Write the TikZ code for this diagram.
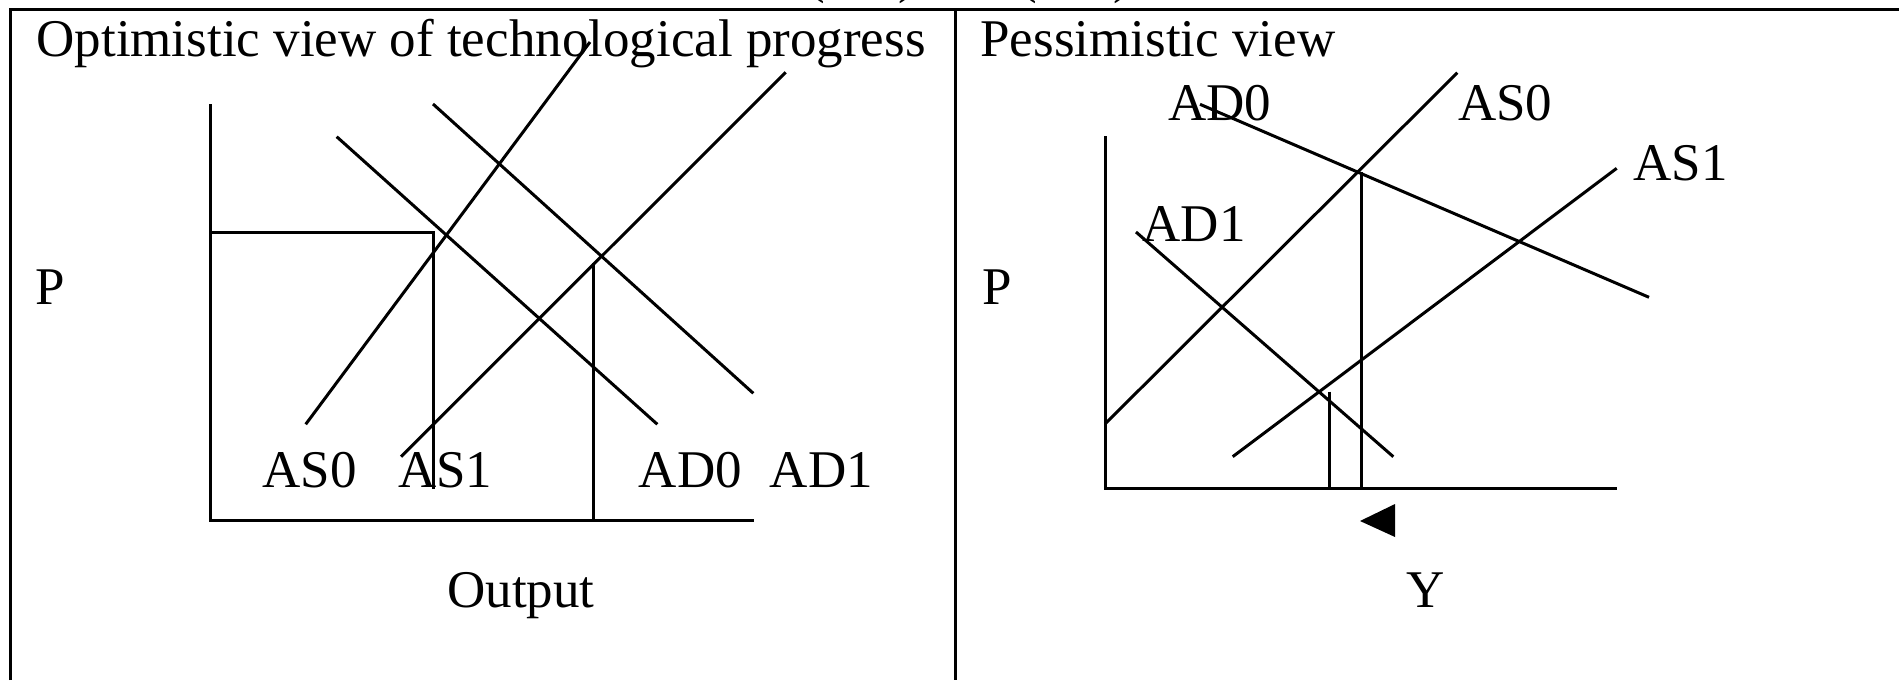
\documentclass[tikz,border=0pt]{standalone}
\usepackage{fontspec}
\setmainfont{Liberation Serif}
\begin{document}
\begin{tikzpicture}[x=0.5pt, y=-0.5pt, line width=1.5pt,
    lab/.style={anchor=base west, inner sep=0pt, font=\fontsize{26.5}{30}\selectfont},
    labc/.style={lab, anchor=base}]
  \useasboundingbox (0,0) rectangle (1899,680);
  % Frame
  \draw (10,680) -- (10,9.5) -- (1899,9.5);
  \draw (955.5,9.5) -- (955.5,680);
  % Cut-off heading above the frame
  \node[lab] (topa) at (806,-7) {(\hspace{36.5pt})};
  \node[lab] (topb) at (1018,-7) {(\hspace{38pt})};

  % --- Optimistic view ---
  \node[lab] (opttitle) at (35,56) {Optimistic view of technological progress};
  % Axes
  \draw (210,104) -- (210,520) -- (754,520);
  % Price and output levels
  \draw (210,232.7) -- (433,232.7) -- (433,489);
  \draw (593.3,263) -- (593.3,520);
  % Supply curves
  \draw (305.7,424.3) -- (590,42);
  \draw (401,456.7) -- (785.7,72.3);
  % Demand curves
  \draw (336.7,136.7) -- (657.3,424.3);
  \draw (433,104) -- (753.3,393.3);
  % Labels
  \node[lab] (optp) at (34,304) {P};
  \node[labc] (optout) at (521,607) {Output};
  \node[lab] (optas0) at (261,487.3) {AS0};
  \node[lab] (optas1) at (396.7,487.3) {AS1};
  \node[lab] (optad0) at (637.3,487.3) {AD0};
  \node[lab] (optad1) at (768.3,487.3) {AD1};

  % --- Pessimistic view ---
  \node[lab] (pestitle) at (979,56) {Pessimistic view};
  % Axes
  \draw (1105,136) -- (1105,488.3) -- (1617,488.3);
  % Output levels
  \draw (1361,172) -- (1361,488.3);
  \draw (1329,391.7) -- (1329,488.3);
  % Supply curves
  \draw (1105,424) -- (1457.3,72.7);
  \draw (1232.7,456.7) -- (1616.7,168.3);
  % Demand curves
  \draw (1200,104.3) -- (1649,297.3);
  \draw (1136,232) -- (1393.3,456.7);
  % Shift of output
  \fill (1360,521) -- (1395,504) -- (1395,537) -- cycle;
  % Labels
  \node[lab] (pesp) at (981,304) {P};
  \node[labc] (pesy) at (1425.5,607) {Y};
  \node[lab] (pesad0) at (1166.5,120) {AD0};
  \node[lab] (pesas0) at (1456.5,120) {AS0};
  \node[lab] (pesas1) at (1632,180.7) {AS1};
  \node[lab] (pesad1) at (1141,241.7) {AD1};
\end{tikzpicture}
\end{document}
